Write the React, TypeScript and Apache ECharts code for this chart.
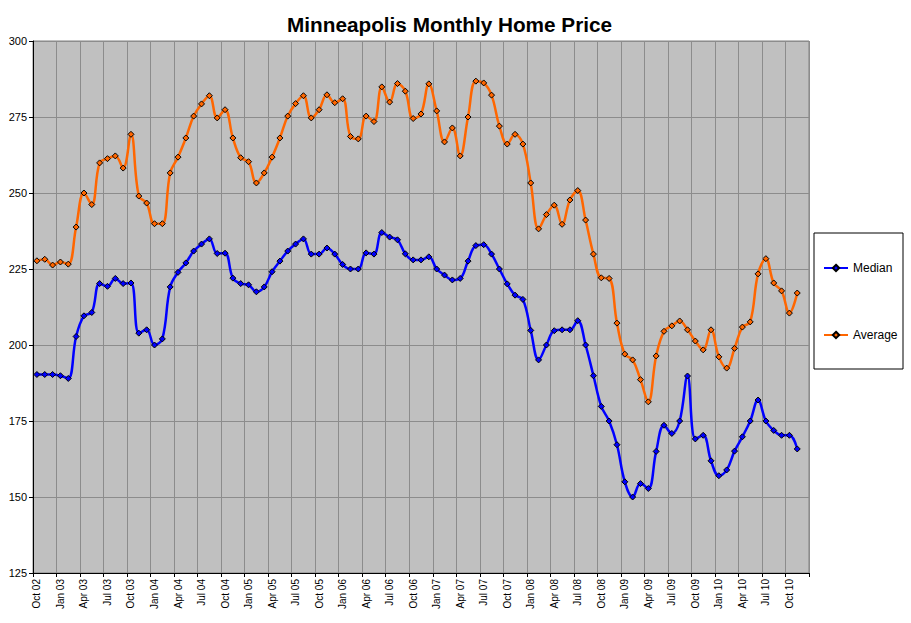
import React, { useEffect, useRef } from "react";
import * as echarts from "echarts";

const months = [
  "Oct 02", "Nov 02", "Dec 02",
  "Jan 03", "Feb 03", "Mar 03", "Apr 03", "May 03", "Jun 03", "Jul 03", "Aug 03", "Sep 03", "Oct 03", "Nov 03", "Dec 03",
  "Jan 04", "Feb 04", "Mar 04", "Apr 04", "May 04", "Jun 04", "Jul 04", "Aug 04", "Sep 04", "Oct 04", "Nov 04", "Dec 04",
  "Jan 05", "Feb 05", "Mar 05", "Apr 05", "May 05", "Jun 05", "Jul 05", "Aug 05", "Sep 05", "Oct 05", "Nov 05", "Dec 05",
  "Jan 06", "Feb 06", "Mar 06", "Apr 06", "May 06", "Jun 06", "Jul 06", "Aug 06", "Sep 06", "Oct 06", "Nov 06", "Dec 06",
  "Jan 07", "Feb 07", "Mar 07", "Apr 07", "May 07", "Jun 07", "Jul 07", "Aug 07", "Sep 07", "Oct 07", "Nov 07", "Dec 07",
  "Jan 08", "Feb 08", "Mar 08", "Apr 08", "May 08", "Jun 08", "Jul 08", "Aug 08", "Sep 08", "Oct 08", "Nov 08", "Dec 08",
  "Jan 09", "Feb 09", "Mar 09", "Apr 09", "May 09", "Jun 09", "Jul 09", "Aug 09", "Sep 09", "Oct 09", "Nov 09", "Dec 09",
  "Jan 10", "Feb 10", "Mar 10", "Apr 10", "May 10", "Jun 10", "Jul 10", "Aug 10", "Sep 10", "Oct 10", "Nov 10", "Dec 10",
];

const median = [
  190.3, 190.3, 190.3, 189.9, 189, 202.8, 209.6, 210.7, 220.2, 219.3,
  221.9, 220.2, 220.4, 203.9, 205, 200, 202, 219.1, 223.9, 227,
  230.9, 233.2, 234.9, 230.1, 230.2, 222, 220.2, 219.8, 217.5, 219.1,
  224.1, 227.6, 230.9, 233.2, 234.9, 229.9, 229.9, 231.9, 229.9, 226.5,
  225, 225, 230.3, 229.9, 237, 235.5, 234.6, 230, 228, 228,
  229, 225, 223, 221.4, 221.9, 227.6, 232.7, 233, 229.9, 225,
  220.1, 216.4, 215, 204.8, 195.1, 200, 204.7, 205, 205, 208,
  200, 189.9, 179.8, 175, 167.2, 155, 150, 154.4, 152.8, 165,
  173.6, 170.9, 175, 189.8, 169.1, 170.3, 161.9, 157, 158.9, 165.1,
  169.8, 175, 181.9, 175, 171.9, 170.3, 170.3, 165.8,
];

const average = [
  227.7, 228.2, 226.3, 227.3, 226.6, 238.8, 250, 246.2, 259.9, 261.3,
  262.2, 258.2, 269.3, 249, 246.7, 239.9, 239.9, 256.6, 261.8, 268.1,
  275.3, 279.3, 282, 274.7, 277.4, 268.1, 261.6, 260.3, 253.3, 256.6,
  261.8, 268.1, 275.3, 279.4, 282, 274.7, 277.4, 282.3, 279.7, 281,
  268.6, 267.8, 275.3, 273.5, 284.9, 279.9, 286, 283.5, 274.5, 276,
  285.9, 277, 266.8, 271.4, 262.2, 275, 286.8, 286.2, 282.2, 272,
  266.1, 269.3, 266.1, 253.3, 238.2, 242.9, 246, 239.7, 247.7, 250.8,
  241.1, 229.9, 222.1, 221.9, 207.2, 197, 195.1, 188.6, 181.3, 196.4,
  204.5, 206.3, 207.9, 205, 201.3, 198.4, 205, 196.1, 192.4, 198.9,
  205.9, 207.6, 223.4, 228.4, 220.4, 217.8, 210.5, 217.1,
];

const seriesNames = ["Median", "Average"];
const titleText = "Minneapolis Monthly Home Price";

export default function App() {
  const ref = useRef<HTMLDivElement>(null);
  useEffect(() => {
    if (!ref.current) return;
    const chart = echarts.init(ref.current, null, { renderer: "svg" });
    const font = "Arial, 'Liberation Sans', sans-serif";
    const mkSeries = (name: string, data: number[], color: string) => ({
      name,
      type: "line",
      data,
      smooth: 0.4,
      symbol: "diamond",
      symbolSize: 6,
      showSymbol: true,
      showAllSymbol: true,
      lineStyle: { color, width: 2.5 },
      itemStyle: { color, borderColor: "#000000", borderWidth: 1 },
      emphasis: { disabled: true },
    });
    chart.setOption({
      animation: false,
      backgroundColor: "#ffffff",
      title: {
        text: titleText,
        left: 282,
        top: 9,
        textStyle: { fontFamily: font, fontSize: 20.75, fontWeight: "bold", color: "#000" },
      },
      grid: {
        left: 33,
        right: 102,
        top: 41,
        bottom: 50,
        show: true,
        backgroundColor: "#C0C0C0",
        borderColor: "#808080",
        borderWidth: 1,
      },
      legend: {
        orient: "vertical",
        left: 823,
        top: 262,
        padding: 0,
        itemGap: 55,
        itemWidth: 24,
        itemHeight: 8,
        data: seriesNames,
        textStyle: { fontFamily: font, fontSize: 12, color: "#000" },
      },
      graphic: [
        {
          type: "rect",
          shape: { x: 814, y: 233, width: 89, height: 136 },
          style: { fill: "#ffffff", stroke: "#000000", lineWidth: 1 },
          z: -1,
        },
      ],
      xAxis: {
        type: "category",
        data: months,
        boundaryGap: true,
        axisLine: { lineStyle: { color: "#000", width: 1 } },
        axisTick: { show: true, interval: 2, length: 4, lineStyle: { color: "#000" } },
        axisLabel: {
          interval: 2,
          rotate: 90,
          fontFamily: font,
          fontSize: 10,
          color: "#000",
          margin: 6,
        },
        splitLine: { show: true, interval: 2, lineStyle: { color: "#8c8c8c", width: 1 } },
      },
      yAxis: {
        type: "value",
        min: 125,
        max: 300,
        interval: 25,
        axisLine: { show: true, lineStyle: { color: "#000", width: 1 } },
        axisTick: { show: true, length: 4, lineStyle: { color: "#000" } },
        axisLabel: { fontFamily: font, fontSize: 11, color: "#000", margin: 6 },
        splitLine: { show: true, lineStyle: { color: "#8c8c8c", width: 1 } },
      },
      series: [
        mkSeries(seriesNames[0], median, "#0000FF"),
        mkSeries(seriesNames[1], average, "#FF6600"),
      ],
    });
    return () => chart.dispose();
  }, []);
  return (
    <div
      ref={ref}
      style={{ position: "fixed", left: 0, top: 0, width: 911, height: 623 }}
    />
  );
}
